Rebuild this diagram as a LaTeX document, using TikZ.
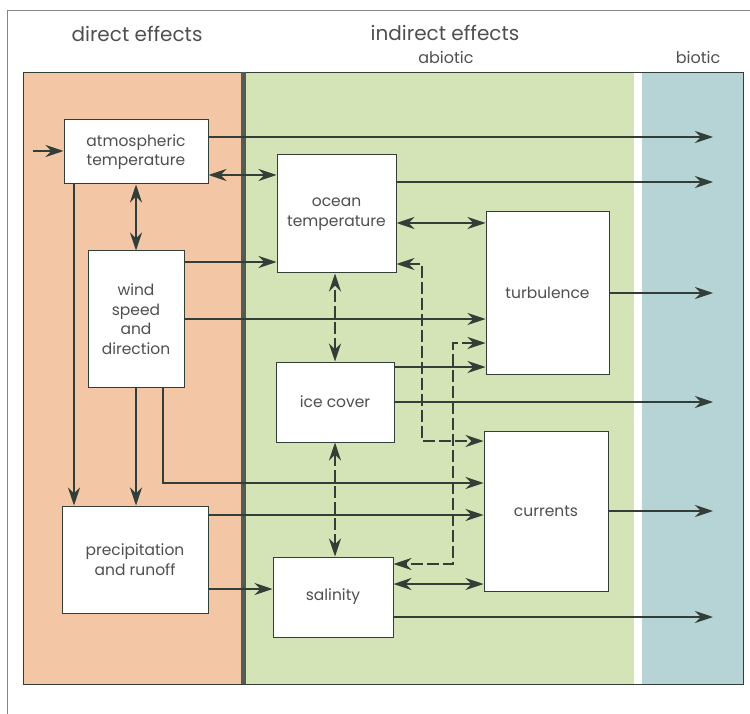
\documentclass[tikz,border=0pt]{standalone}
\usepackage{fontspec}
\setmainfont{Poppins}
\usetikzlibrary{positioning,arrows.meta}
\definecolor{direct}{RGB}{243,198,166}
\definecolor{abiotic}{RGB}{212,228,183}
\definecolor{biotic}{RGB}{182,211,213}
\definecolor{ink}{RGB}{52,62,56}
\definecolor{type}{RGB}{78,80,80}
\tikzset{
  box/.style={draw=ink, fill=white, line width=1pt, align=center, inner sep=0pt,
    text=type, font=\fontsize{15.5}{19.5}\selectfont},
  head/.style={text=type, font=\fontsize{20}{24}\selectfont},
  sub/.style={text=type, font=\fontsize{16}{19}\selectfont},
  flow/.style={draw=ink, line width=1.4pt, -{Stealth[length=18pt,width=12pt,inset=6pt]}},
  both/.style={draw=ink, line width=1.4pt,
    {Stealth[length=18pt,width=12pt,inset=6pt]}-{Stealth[length=18pt,width=12pt,inset=6pt]}},
  dashline/.style={dash pattern=on 12pt off 4pt}
}
\begin{document}
\begin{tikzpicture}[x=1pt, y=-1pt]
	\useasboundingbox (0,0) rectangle (750,714);
	\fill[direct] (23,72) rectangle (243,684);
	\fill[abiotic] (243,72) rectangle (634,684);
	\fill[biotic] (642,72) rectangle (743,684);
	\draw[ink, line width=0.8pt] (23,72) rectangle (743,684);
	\draw[ink!85, line width=5pt] (243.5,72) -- (243.5,684);
	\draw[type!70, line width=0.8pt] (7,714) -- (7,10) -- (750,10);

	\node[head] (direct) at (137,34) {direct effects};
	\node[head] (indirect) at (445,33) {indirect effects};
	\node[sub] (abio) at (446,57) {abiotic};
	\node[sub] (bio) at (698,57) {biotic};

	\node[box, minimum width=144pt, minimum height=64pt] (atm) at (136,152) {atmospheric\\temperature};
	\node[box, minimum width=96pt, minimum height=136pt] (wind) at (136,319) {wind\\speed\\and\\direction};
	\node[box, minimum width=146pt, minimum height=107pt] (precip) at (135,559.5) {precipitation\\and runoff};
	\node[box, minimum width=119pt, minimum height=118pt] (ocean) at (336.5,214) {ocean\\temperature};
	\node[box, minimum width=118pt, minimum height=80pt] (ice) at (335,402) {ice cover};
	\node[box, minimum width=120pt, minimum height=80pt] (salinity) at (333,597) {salinity};
	\node[box, minimum width=123pt, minimum height=162pt] (turb) at (547.5,293) {turbulence};
	\node[box, minimum width=124pt, minimum height=160pt] (currents) at (546,511) {currents};

	\coordinate (in) at (33,151);
	\coordinate (end) at (713,0);

	\draw[flow] (in) -- (in -| atm.west);
	\draw[flow] (atm.east |- 0,137) -- (end |- 0,137);
	\draw[both] (atm.east |- 0,175) -- (ocean.west |- 0,175);
	\draw[both] (atm.south) -- (wind.north);
	\draw[flow] (atm.south -| 74,0) -- (precip.north -| 74,0);
	\draw[flow] (wind.east |- 0,262) -- (ocean.west |- 0,262);
	\draw[flow] (wind.east |- 0,319) -- (turb.west |- 0,319);
	\draw[flow] (wind.south) -- (wind.south |- precip.north);
	\draw[flow] (wind.south -| 163,0) |- (currents.west |- 0,483);
	\draw[flow] (precip.east |- 0,515) -- (currents.west |- 0,515);
	\draw[flow] (precip.east |- 0,589) -- (salinity.west |- 0,589);
	\draw[flow] (ocean.east |- 0,182) -- (end |- 0,182);
	\draw[both] (ocean.east |- 0,223) -- (turb.west |- 0,223);
	\draw[both, dashline] (ice.north) -- (ice.north |- ocean.south);
	\draw[both, dashline] (ocean.east |- 0,264) -| (422,441) -- (currents.west |- 0,441);
	\draw[both, dashline] (turb.west |- 0,343) -| (453,564) -- (salinity.east |- 0,564);
	\draw[flow] (ice.east |- 0,367) -- (turb.west |- 0,367);
	\draw[flow] (ice.east) -- (ice.east -| end);
	\draw[both, dashline] (ice.south) -- (ice.south |- salinity.north);
	\draw[both] (salinity.east |- 0,584) -- (currents.west |- 0,584);
	\draw[flow] (salinity.east |- 0,617) -- (end |- 0,617);
	\draw[flow] (turb.east) -- (turb.east -| end);
	\draw[flow] (currents.east) -- (currents.east -| end);
\end{tikzpicture}
\end{document}
